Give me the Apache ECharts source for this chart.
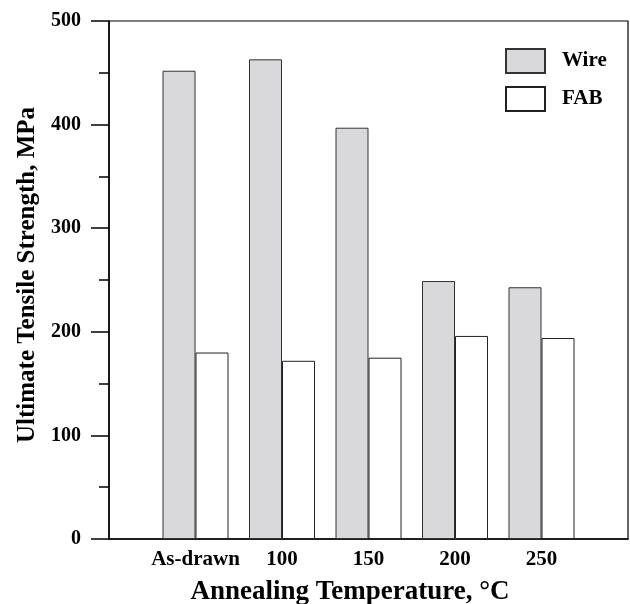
<!DOCTYPE html>
<html>
<head>
<meta charset="utf-8">
<script src="https://cdn.jsdelivr.net/npm/echarts@6/dist/echarts.min.js"></script>
<style>
  html, body { margin: 0; padding: 0; background: #fff; }
  #chart { width: 630px; height: 604px; }
</style>
</head>
<body>
<div id="chart"></div>
<script>
// empty slots at both ends keep the frame wider than the bar groups
var categories = ['', 'As-drawn', '100', '150', '200', '250', ''];
var wireValues = ['-', 452, 463, 397, 249, 243, '-'];
var fabValues = ['-', 180, 172, 175, 196, 194, '-'];

var serif = "'Liberation Serif', 'Times New Roman', serif";

var chart = echarts.init(document.getElementById('chart'));
chart.setOption({
  animation: false,
  backgroundColor: '#fff',
  grid: {
    left: 109, right: 2, top: 21, bottom: 65,
    outerBoundsMode: 'none',
    containLabel: false,
    show: true, borderColor: '#000', borderWidth: 1.2
  },
  legend: {
    orient: 'vertical',
    left: 505, top: 48,
    padding: 0,
    itemWidth: 39, itemHeight: 24, itemGap: 12,
    icon: 'rect',
    data: ['Wire', 'FAB'],
    textStyle: { fontFamily: serif, fontWeight: 'bold', fontSize: 21, color: '#000', padding: [0, 0, 0, 12] }
  },
  xAxis: {
    type: 'category',
    data: categories,
    boundaryGap: false,
    axisLine: { lineStyle: { color: '#000', width: 1.5 } },
    axisTick: { show: false },
    axisLabel: { margin: 10, fontFamily: serif, fontWeight: 'bold', fontSize: 21, color: '#000', interval: 0 },
    name: 'Annealing Temperature, \u00b0C',
    nameLocation: 'middle',
    nameGap: 40,
    nameTextStyle: { fontFamily: serif, fontWeight: 'bold', fontSize: 27, color: '#000', padding: [0, 37, 0, 0] }
  },
  yAxis: {
    type: 'value',
    min: 0, max: 500, interval: 100,
    axisLine: { show: true, lineStyle: { color: '#000', width: 1.5 } },
    axisTick: { show: true, length: 18, lineStyle: { color: '#000', width: 1.5 } },
    minorTick: { show: true, splitNumber: 2, length: 10, lineStyle: { color: '#000', width: 1.5 } },
    splitLine: { show: false },
    axisLabel: { margin: 28, fontFamily: serif, fontWeight: 'bold', fontSize: 20, color: '#000' },
    name: 'Ultimate Tensile Strength, MPa',
    nameLocation: 'middle',
    nameGap: 62,
    nameTextStyle: { fontFamily: serif, fontWeight: 'bold', fontSize: 25, color: '#000', padding: [0, 0, 0, 10] }
  },
  series: [
    {
      name: 'Wire', type: 'bar', data: wireValues,
      barWidth: 33, barGap: '0%',
      itemStyle: { color: '#d9d9db', borderColor: '#333', borderWidth: 1 }
    },
    {
      name: 'FAB', type: 'bar', data: fabValues,
      barWidth: 33, barGap: '0%',
      itemStyle: { color: '#fff', borderColor: '#222', borderWidth: 1 }
    }
  ]
});
</script>
</body>
</html>
